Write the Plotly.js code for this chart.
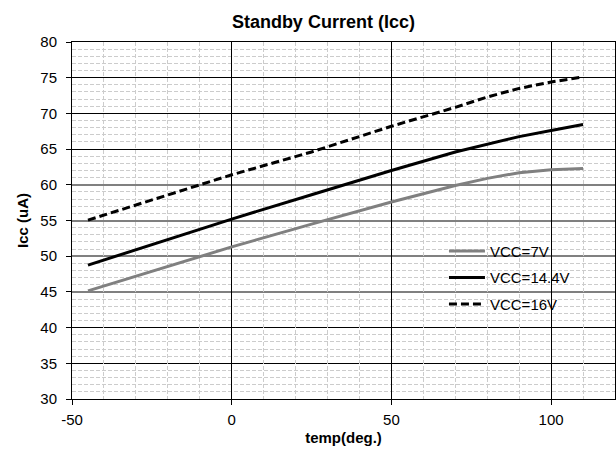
<!DOCTYPE html>
<html>
<head>
<meta charset="utf-8">
<script src="https://cdn.plot.ly/plotly-3.0.1.min.js"></script>
<style>
html,body{margin:0;padding:0;background:#fff;}
#chart{width:616px;height:455px;}
#chart .shapelayer path{shape-rendering:crispEdges;}
</style>
</head>
<body>
<div id="chart"></div>
<script>
// Data
const temps = [-45, 0, 25, 50, 70, 80, 90, 100, 110];
const vcc7 = [45.15, 51.3, 54.5, 57.6, 59.9, 60.9, 61.7, 62.1, 62.3];
const vcc144 = [48.75, 55.2, 58.6, 62.0, 64.6, 65.7, 66.75, 67.6, 68.45];
const vcc16 = [55.05, 61.4, 64.6, 68.2, 70.85, 72.3, 73.5, 74.4, 75.1];
const seriesNames = ['VCC=7V', 'VCC=14.4V', 'VCC=16V'];
const xTickVals = [-50, 0, 50, 100];
const xTickLabels = ['-50', '0', '50', '100'];
const yMajorLines = [35, 40, 45, 50, 55, 60, 65, 70, 75];
const grayMajorY = [45, 50, 55, 60];

const FONT = 'Arial, "Liberation Sans", sans-serif';

const traces = [
  {x: temps, y: vcc7, name: seriesNames[0], legendgroup: 'g1', mode: 'lines', line: {color: '#808080', width: 3}},
  {x: temps, y: vcc144, name: seriesNames[1], legendgroup: 'g2', mode: 'lines', line: {color: '#000000', width: 3}},
  {x: temps, y: vcc16, name: seriesNames[2], legendgroup: 'g3', mode: 'lines', line: {color: '#000000', width: 3, dash: '8px,4px'}}
];

const shapes = yMajorLines.map(v => {
  const gray = grayMajorY.includes(v);
  return {
    type: 'line', xref: 'paper', x0: 0, x1: 1, yref: 'y', y0: v, y1: v,
    layer: 'below', line: {color: gray ? '#808080' : '#000000', width: gray ? 2 : 1}
  };
});

const layout = {
  width: 616, height: 455,
  margin: {l: 72, r: 1, t: 42, b: 56, pad: 0},
  paper_bgcolor: '#ffffff', plot_bgcolor: '#ffffff',
  font: {family: FONT, size: 15, color: '#000'},
  title: {text: '<b>Standby Current (Icc)</b>', font: {family: FONT, size: 18, color: '#000'},
          x: 0.525, xanchor: 'center', y: 0.953, yanchor: 'middle'},
  showlegend: true,
  legend: {x: 0.685, y: 0.46, xanchor: 'left', yanchor: 'top', bgcolor: 'rgba(0,0,0,0)',
           font: {family: FONT, size: 15, color: '#000'}, tracegroupgap: 4, traceorder: 'grouped',
           itemwidth: 36},
  xaxis: {
    range: [-50, 120], tickmode: 'array', tickvals: xTickVals, ticktext: xTickLabels,
    showgrid: true, gridcolor: '#000', gridwidth: 1,
    zeroline: false, showline: true, mirror: true, linecolor: '#000', linewidth: 1,
    ticks: 'outside', ticklen: 5, tickcolor: '#000', ticklabelstandoff: 2,
    tickfont: {family: FONT, size: 15, color: '#000'},
    minor: {dtick: 10, showgrid: true, gridcolor: '#cccccc', griddash: '4px,2px', gridwidth: 1, ticks: ''},
    title: {text: '<b>temp(deg.)</b>', font: {family: FONT, size: 15, color: '#000'}, standoff: 5}
  },
  yaxis: {
    range: [30, 80], dtick: 5,
    showgrid: false,
    zeroline: false, showline: true, mirror: true, linecolor: '#000', linewidth: 1,
    ticks: 'outside', ticklen: 5, tickcolor: '#000', ticklabelstandoff: 6,
    tickfont: {family: FONT, size: 15, color: '#000'},
    minor: {dtick: 1, showgrid: true, gridcolor: '#cccccc', griddash: '4px,2px', gridwidth: 1, ticks: ''},
    title: {text: '<b>Icc (uA)</b>', font: {family: FONT, size: 15, color: '#000'}, standoff: 8}
  },
  shapes: shapes
};

Plotly.newPlot('chart', traces, layout, {displayModeBar: false, staticPlot: true});
</script>
</body>
</html>
